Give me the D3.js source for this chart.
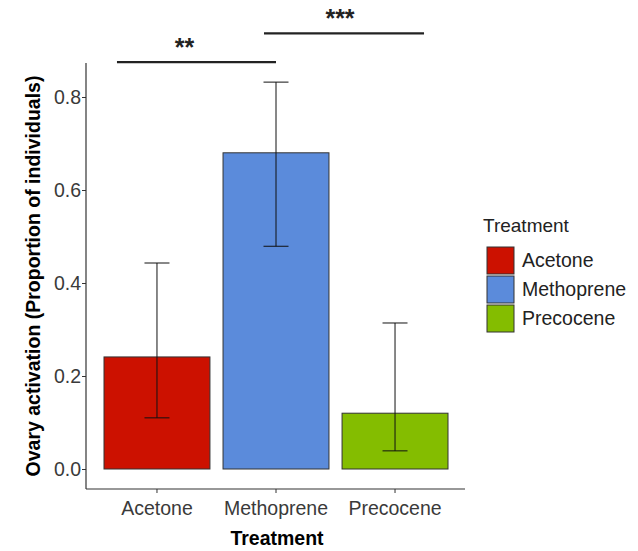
<!DOCTYPE html>
<html>
<head>
<meta charset="utf-8">
<script src="https://cdn.jsdelivr.net/npm/d3@7"></script>
<style>
  body { margin: 0; background: #fff; }
  svg { font-family: "Liberation Sans", Arial, sans-serif; }
</style>
</head>
<body>
<div id="chart"></div>
<script>
const treatments = ["Acetone", "Methoprene", "Precocene"];
const means = [0.241, 0.680, 0.120];
const lower = [0.110, 0.479, 0.039];
const upper = [0.443, 0.832, 0.314];
const colors = ["#CC1100", "#5B8BDB", "#84BD00"];
const yTicks = [0, 0.2, 0.4, 0.6, 0.8];
// significance brackets
const sigFrom = ["Acetone", "Methoprene"];
const sigTo = ["Methoprene", "Precocene"];
const sigLabel = ["**", "***"];
const sigY = [0.875, 0.937];

const width = 638, height = 551;
const svg = d3.select("#chart").append("svg")
    .attr("width", width)
    .attr("height", height);

const x = d3.scaleBand()
    .domain(treatments)
    .range([104, 448])
    .paddingInner(0.11)
    .paddingOuter(0);

const y = d3.scaleLinear()
    .domain([0, 0.8])
    .range([469, 97]);

const axisLeft = 86, axisBottom = 489;
const cx = t => x(t) + x.bandwidth() / 2;

// bars
svg.append("g")
  .selectAll("rect")
  .data(treatments)
  .join("rect")
    .attr("x", d => x(d))
    .attr("y", (d, i) => y(means[i]))
    .attr("width", x.bandwidth())
    .attr("height", (d, i) => y(0) - y(means[i]))
    .attr("fill", (d, i) => colors[i])
    .attr("stroke", "#333")
    .attr("stroke-width", 1);

// error bars
const capW = 25;
const eb = svg.append("g").attr("stroke", "#111").attr("stroke-width", 1);
treatments.forEach((t, i) => {
  const c = cx(t);
  eb.append("line").attr("x1", c).attr("x2", c).attr("y1", y(lower[i])).attr("y2", y(upper[i]));
  eb.append("line").attr("x1", c - capW / 2).attr("x2", c + capW / 2).attr("y1", y(lower[i])).attr("y2", y(lower[i]));
  eb.append("line").attr("x1", c - capW / 2).attr("x2", c + capW / 2).attr("y1", y(upper[i])).attr("y2", y(upper[i]));
});

// axes
const yAxis = svg.append("g")
    .attr("transform", `translate(${axisLeft},0)`)
    .call(d3.axisLeft(y).tickValues(yTicks).tickFormat(d3.format(".1f")).tickSize(4).tickPadding(1));
yAxis.select(".domain").remove();
svg.append("line").attr("x1", axisLeft).attr("x2", axisLeft).attr("y1", 63).attr("y2", axisBottom)
    .attr("stroke", "#333").attr("stroke-width", 1.2);

const xAxis = svg.append("g")
    .attr("transform", `translate(0,${axisBottom})`)
    .call(d3.axisBottom(x).tickSize(4).tickPadding(8));
xAxis.select(".domain").remove();
svg.append("line").attr("x1", axisLeft).attr("x2", 465).attr("y1", axisBottom).attr("y2", axisBottom)
    .attr("stroke", "#333").attr("stroke-width", 1.2);

svg.selectAll(".tick line").attr("stroke", "#333");
svg.selectAll(".tick text").attr("fill", "#3a3a3a").style("font-size", "19.5px");

// axis titles
svg.append("text")
    .attr("x", 277).attr("y", 545)
    .attr("text-anchor", "middle")
    .style("font-weight", "bold").style("font-size", "19.5px")
    .text("Treatment");
svg.append("text")
    .attr("transform", "translate(40,276) rotate(-90)")
    .attr("text-anchor", "middle")
    .style("font-weight", "bold").style("font-size", "19.5px")
    .text("Ovary activation (Proportion of individuals)");

// significance
const sigX1Off = [-40, -12], sigX2Off = [0, 29], sigLabelOff = [-12, -4];
sigLabel.forEach((lab, i) => {
  const x1 = cx(sigFrom[i]) + sigX1Off[i];
  const x2 = cx(sigTo[i]) + sigX2Off[i];
  const yy = y(sigY[i]);
  svg.append("line").attr("x1", x1).attr("x2", x2).attr("y1", yy).attr("y2", yy)
      .attr("stroke", "#222").attr("stroke-width", 2.2);
  svg.append("text").attr("x", (x1 + x2) / 2 + sigLabelOff[i]).attr("y", yy - 6)
      .attr("text-anchor", "middle").style("font-size", "25px").style("font-weight", "bold")
      .attr("fill", "#222")
      .text(lab);
});

// legend
const lg = svg.append("g").attr("transform", "translate(483,0)");
lg.append("text").attr("x", 0).attr("y", 232).style("font-size", "19px").attr("fill", "#222").text("Treatment");
treatments.forEach((t, i) => {
  const yy = 247 + i * 29;
  lg.append("rect").attr("x", 4).attr("y", yy).attr("width", 27).attr("height", 27)
      .attr("fill", colors[i]).attr("stroke", "#333").attr("stroke-width", 1);
  lg.append("text").attr("x", 39).attr("y", yy + 20).style("font-size", "19.5px").attr("fill", "#222").text(t);
});
</script>
</body>
</html>
